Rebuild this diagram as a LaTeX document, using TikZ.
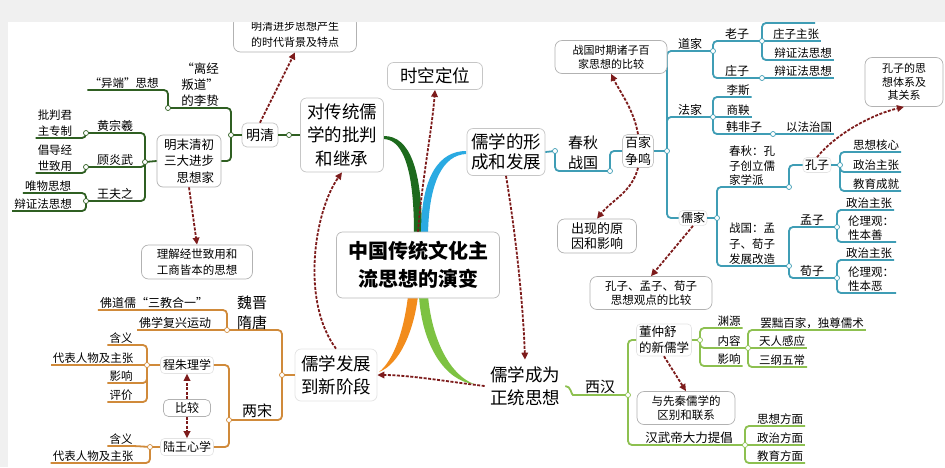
\documentclass[tikz,border=0pt]{standalone}
\usepackage{fontspec}
\setmainfont{Noto Sans CJK SC}
\usetikzlibrary{arrows.meta}
\definecolor{cL}{HTML}{2F5F22}
\definecolor{cB}{HTML}{D08A3A}
\definecolor{cT}{HTML}{3F9DB5}
\definecolor{cG}{HTML}{8DC050}
\definecolor{arr}{HTML}{7D1B1B}
\definecolor{bDG}{HTML}{1D6A1D}
\definecolor{bBL}{HTML}{2AAAE2}
\definecolor{bOR}{HTML}{F28C1C}
\definecolor{bLG}{HTML}{7DC242}
\definecolor{bgc}{HTML}{F0F0F0}
\tikzset{
  leaf/.style={anchor=south, inner xsep=2pt, inner ysep=1pt, font={\fontsize{11.5}{14}\selectfont}},
  lab/.style={anchor=south, inner xsep=1pt, inner ysep=1pt, font={\fontsize{12}{14}\selectfont}},
  mainbox/.style={draw=gray!45, rounded corners=6pt, fill=white, align=center, inner sep=2pt, line width=0.7pt, font={\fontsize{17.5}{23}\selectfont}},
  infobox/.style={draw=gray!60, rounded corners=7pt, fill=white, align=center, inner sep=2pt, line width=0.7pt},
  faintbox/.style={draw=gray!22, rounded corners=4pt, fill=white, inner sep=2pt, line width=0.6pt},
  jn/.style={circle, fill=white, inner sep=0pt, minimum size=5pt, line width=0.7pt},
  tree/.style={line width=1.8pt, rounded corners=4pt},
  darr/.style={draw=arr, line width=1.8pt, dash pattern=on 3pt off 1.5pt, -{Triangle[length=7pt,width=6.5pt]}}
}
\begin{document}
\begin{tikzpicture}[x=1pt,y=-1pt]
\useasboundingbox (0,0) rectangle (945,467);
\fill[bgc] (0,0) rectangle (945,467);
\fill[white] (8,22) rectangle (945,467);

% ---------- main tapered branches ----------
\fill[bDG] (384,136) .. controls (410,136) and (422,170) .. (422,234) -- (414,234) .. controls (414,175) and (405,140) .. (384,139) -- cycle;
\fill[bBL] (466,151) .. controls (440,151) and (421,175) .. (421,234) -- (428,234) .. controls (429,180) and (444,155) .. (466,154) -- cycle;
\fill[bOR] (408,296) .. controls (404,330) and (394,360) .. (379,372) .. controls (400,364) and (414,330) .. (418,296) -- cycle;
\fill[bLG] (419,296) .. controls (422,345) and (445,381) .. (474,384) .. controls (450,375) and (432,340) .. (428,296) -- cycle;

% ---------- main nodes ----------
\node[mainbox, minimum width=83pt, minimum height=74pt, font={\fontsize{17.5}{23.5}\selectfont}] (dctx) at (342,135) {对传统儒\\学的批判\\和继承};
\node[mainbox, minimum width=95pt, minimum height=27pt] (skdw) at (435,76) {时空定位};
\node[mainbox, minimum width=78pt, minimum height=47pt, font={\fontsize{17.5}{20}\selectfont}] (rxxc) at (506,152) {儒学的形\\成和发展};
\node[mainbox, minimum width=163pt, minimum height=66pt, draw=gray!55, font={\bfseries\fontsize{20}{28}\selectfont}] (ctr) at (418,265) {中国传统文化主\\流思想的演变};
\node[mainbox, minimum width=82pt, minimum height=52pt, draw=gray!22] (rxfz) at (336,375) {儒学发展\\到新阶段};
\node[mainbox, minimum width=80pt, minimum height=52pt, draw=none] (rxcw) at (525,386) {儒学成为\\正统思想};

% ---------- left tree (Ming-Qing) ----------
\node[infobox, draw=gray!45, rounded corners=5pt, minimum width=36pt, minimum height=24pt, font={\fontsize{14}{16}\selectfont}] (mq) at (260,135) {明清};
\coordinate (jmq) at (231,135);
\coordinate (jmq2) at (289,135);
\coordinate (jlz) at (168,108);
\coordinate (jmm) at (145,162);
\coordinate (jhzx) at (86,133);
\coordinate (jgyw) at (86,167);
\coordinate (jwfz) at (86,201);
\node[infobox, rounded corners=6pt, align=right, minimum width=64pt, minimum height=52pt, font={\fontsize{12.5}{16.5}\selectfont}] (mm) at (189,161) {明末清初\\三大进步\\思想家};
\draw[tree, cL] (jmq) -- (mq.west);
\draw[tree, cL] (mq.east) -- (dctx.west);
\draw[tree, cL] (jmq) |- (jlz);
\draw[tree, cL] (jmq) |- (mm.east);
\draw[tree, cL] (mm.west) -- (jmm);
\draw[tree, cL] (jmm) |- (jhzx);
\draw[tree, cL] (jmm) |- (jgyw);
\draw[tree, cL] (jmm) |- (jwfz);
\node[lab, align=center, font={\fontsize{12.5}{16}\selectfont}] (lz) at (200,108) {“离经\\叛道”\\的李贽};
\node[leaf] (yd) at (124,90) {“异端”思想};
\draw[tree, cL] (jlz) |- (yd.south east) -- (yd.south west);
\node[lab] (hzx) at (115,133) {黄宗羲};
\node[lab] (gyw) at (115,167) {顾炎武};
\node[lab] (wfz) at (115,201) {王夫之};
\node[leaf, align=right, font={\fontsize{11.5}{16}\selectfont}] (pp) at (55,138) {批判君\\主专制};
\node[leaf, align=right, font={\fontsize{11.5}{16}\selectfont}] (gg) at (55,173) {倡导经\\世致用};
\node[leaf] (wwsx) at (48,193) {唯物思想};
\node[leaf] (bzf) at (43,211) {辩证法思想};
\draw[tree, cL] (jhzx) |- (pp.south east) -- (pp.south west);
\draw[tree, cL] (jgyw) |- (gg.south east) -- (gg.south west);
\draw[tree, cL] (jwfz) |- (wwsx.south east) -- (wwsx.south west);
\draw[tree, cL] (jwfz) |- (bzf.south east) -- (bzf.south west);
\foreach \c in {jmq,jmq2,jlz,jmm,jhzx,jgyw,jwfz} \node[jn, draw=cL] at (\c) {};
\node[infobox, minimum width=111pt, minimum height=34pt, font={\fontsize{11.5}{16}\selectfont}] (ljjs) at (197,262) {理解经世致用和\\工商皆本的思想};
\node[infobox, minimum width=123pt, minimum height=36pt, font={\fontsize{11}{16}\selectfont}] (mqjb) at (295,34) {明清进步思想产生\\的时代背景及特点};

% ---------- bottom-left tree ----------
\coordinate (jfz) at (282,375);
\coordinate (jwj) at (227,330);
\coordinate (jls) at (229,420);
\coordinate (jcz) at (147,365);
\coordinate (jlw) at (150,447);
\draw[tree, cB] (jfz) -- (rxfz.west);
\draw[tree, cB] (jfz) |- (jwj);
\draw[tree, cB] (jfz) |- (jls);
\node[align=center, inner sep=0pt, font={\fontsize{15}{20}\selectfont}] (wjst) at (252,313) {魏晋\\隋唐};
\node[inner sep=0pt, font={\fontsize{15}{18}\selectfont}] (ls) at (257,411) {两宋};
\node[leaf, font={\fontsize{12}{14}\selectfont}] (fdr) at (154,310) {佛道儒“三教合一”};
\node[leaf, font={\fontsize{12}{14}\selectfont}] (fxfx) at (175,330) {佛学复兴运动};
\draw[tree, cB] (jwj) |- (fdr.south east) -- (fdr.south west);
\draw[tree, cB] (jwj) -- (fxfx.south east) -- (fxfx.south west);
\node[faintbox, minimum width=53pt, minimum height=17pt, font={\fontsize{12}{14}\selectfont}] (czlx) at (187,365) {程朱理学};
\node[faintbox, minimum width=53pt, minimum height=17pt, font={\fontsize{12}{14}\selectfont}] (lwxx) at (187,447) {陆王心学};
\node[infobox, rounded corners=5pt, minimum width=47pt, minimum height=17pt, font={\fontsize{12}{14}\selectfont}] (bj) at (187,408) {比较};
\draw[tree, cB] (jls) |- (czlx.east);
\draw[tree, cB] (jls) |- (lwxx.east);
\draw[tree, cB] (czlx.west) -- (jcz);
\draw[tree, cB] (lwxx.west) -- (jlw);
\node[leaf] (hy1) at (121,345) {含义};
\node[leaf] (dbrw1) at (93,365) {代表人物及主张};
\node[leaf] (yx1) at (121,383) {影响};
\node[leaf] (pj) at (121,402) {评价};
\draw[tree, cB] (jcz) |- (hy1.south east) -- (hy1.south west);
\draw[tree, cB] (jcz) -- (dbrw1.south east) -- (dbrw1.south west);
\draw[tree, cB] (jcz) |- (yx1.south east) -- (yx1.south west);
\draw[tree, cB] (jcz) |- (pj.south east) -- (pj.south west);
\node[leaf] (hy2) at (121,446) {含义};
\node[leaf] (dbrw2) at (93,463) {代表人物及主张};
\draw[tree, cB] (jlw) -- (hy2.south east) -- (hy2.south west);
\draw[tree, cB] (jlw) |- (dbrw2.south east) -- (dbrw2.south west);
\foreach \c in {jfz,jwj,jls,jcz,jlw} \node[jn, draw=cB] at (\c) {};
\draw[darr] (bj.north) -- (czlx.south);
\draw[darr] (bj.south) -- (lwxx.north);

% ---------- right-top tree ----------
\coordinate (jcq1) at (555,151);
\coordinate (jcq2) at (610,171);
\coordinate (jbj) at (667,151);
\coordinate (jdj) at (713,51);
\coordinate (jfj) at (713,117);
\coordinate (jrj) at (717,218);
\coordinate (jlaozi) at (762,41);
\coordinate (jzz) at (762,78);
\coordinate (lzh) at (815,23);
\coordinate (jhfz) at (773,134);
\coordinate (jcqkz) at (789,187);
\coordinate (jzgmx) at (789,266);
\coordinate (jkz) at (840,165);
\coordinate (jmz) at (837,227);
\coordinate (jxz) at (837,278);
\node[align=center, inner sep=0pt, font={\fontsize{15}{20}\selectfont}] (cqzg) at (583,153) {春秋\\战国};
\node[infobox, draw=gray!45, rounded corners=5pt, minimum width=31pt, minimum height=32pt, font={\fontsize{13}{17}\selectfont}] (bjzm) at (638,151) {百家\\争鸣};
\node[faintbox, minimum width=27pt, minimum height=15pt, font={\fontsize{12}{14}\selectfont}] (rj) at (693,218) {儒家};
\node[faintbox, minimum width=27pt, minimum height=15pt, font={\fontsize{12}{14}\selectfont}] (kz) at (817,165) {孔子};
\draw[tree, cT] (rxxc.east) -- (jcq1);
\draw[tree, cT] (jcq1) |- (jcq2);
\draw[tree, cT] (jcq2) |- (bjzm.west);
\draw[tree, cT] (bjzm.east) -- (jbj);
\draw[tree, cT] (jbj) |- (jdj);
\draw[tree, cT] (jbj) |- (jfj);
\draw[tree, cT] (jbj) |- (rj.west);
\draw[tree, cT] (rj.east) -- (jrj);
\node[lab] (dj) at (690,51) {道家};
\node[lab] (fj) at (690,117) {法家};
% Daoists
\draw[tree, cT] (jdj) |- (jlaozi);
\draw[tree, cT] (jdj) |- (jzz);
\node[lab] (laozi) at (737,41) {老子};
\node[lab] (zhuangzi) at (737,78) {庄子};
\draw[tree, cT] (jlaozi) |- (lzh);
\node[leaf] (zzzz) at (796,41) {庄子主张};
\node[leaf] (bzf1) at (803,60) {辩证法思想};
\node[leaf] (bzf2) at (803,78) {辩证法思想};
\draw[tree, cT] (jlaozi) -- (zzzz.south west) -- (zzzz.south east);
\draw[tree, cT] (jlaozi) |- (bzf1.south west) -- (bzf1.south east);
\draw[tree, cT] (jzz) -- (bzf2.south west) -- (bzf2.south east);
% Legalists
\node[leaf] (lisi) at (738,97) {李斯};
\node[leaf] (shy) at (738,117) {商鞅};
\node[lab] (hfz) at (744,134) {韩非子};
\node[leaf] (yfzg) at (809,134) {以法治国};
\draw[tree, cT] (jfj) |- (lisi.south west) -- (lisi.south east);
\draw[tree, cT] (jfj) -- (shy.south west) -- (shy.south east);
\draw[tree, cT] (jfj) |- (jhfz);
\draw[tree, cT] (jhfz) -- (yfzg.south west) -- (yfzg.south east);
% Confucians
\draw[tree, cT] (jrj) |- (jcqkz);
\draw[tree, cT] (jrj) |- (jzgmx);
\node[lab, align=left, font={\fontsize{11.5}{14.5}\selectfont}] (cqkz) at (752,187) {春秋：孔\\子创立儒\\家学派};
\node[lab, align=left, font={\fontsize{11.5}{15.5}\selectfont}] (zgmx) at (752,266) {战国：孟\\子、荀子\\发展改造};
\draw[tree, cT] (jcqkz) |- (kz.west);
\draw[tree, cT] (kz.east) -- (jkz);
\node[leaf] (sxhx) at (876,152) {思想核心};
\node[leaf] (kzzz) at (876,172) {政治主张};
\node[leaf] (jycj) at (876,191) {教育成就};
\draw[tree, cT] (jkz) |- (sxhx.south west) -- (sxhx.south east);
\draw[tree, cT] (jkz) |- (kzzz.south west) -- (kzzz.south east);
\draw[tree, cT] (jkz) |- (jycj.south west) -- (jycj.south east);
\draw[tree, cT] (jzgmx) |- (jmz);
\draw[tree, cT] (jzgmx) |- (jxz);
\node[lab] (mz) at (812,227) {孟子};
\node[lab] (xz) at (812,278) {荀子};
\node[leaf] (mzz) at (869,210) {政治主张};
\node[leaf, align=left, font={\fontsize{11.5}{14}\selectfont}] (mzl) at (871,242) {伦理观：\\性本善};
\node[leaf] (xzz) at (869,260) {政治主张};
\node[leaf, align=left, font={\fontsize{11.5}{14}\selectfont}] (xzl) at (871,293) {伦理观：\\性本恶};
\draw[tree, cT] (jmz) |- (mzz.south west) -- (mzz.south east);
\draw[tree, cT] (jmz) |- (mzl.south west) -- (mzl.south east);
\draw[tree, cT] (jxz) |- (xzz.south west) -- (xzz.south east);
\draw[tree, cT] (jxz) |- (xzl.south west) -- (xzl.south east);
\foreach \c in {jcq1,jcq2,jbj,jdj,jfj,jrj,jlaozi,jzz,jhfz,jcqkz,jzgmx,jkz,jmz,jxz} \node[jn, draw=cT] at (\c) {};
% info boxes right
\node[infobox, minimum width=112pt, minimum height=33pt, font={\fontsize{11}{14}\selectfont}] (zgsq) at (611,57) {战国时期诸子百\\家思想的比较};
\node[infobox, minimum width=79pt, minimum height=34pt, font={\fontsize{13}{15}\selectfont}] (cxdy) at (597,236) {出现的原\\因和影响};
\node[infobox, minimum width=122pt, minimum height=33pt, font={\fontsize{11.5}{14}\selectfont}] (kzmz) at (651,293) {孔子、孟子、荀子\\思想观点的比较};
\node[infobox, minimum width=78pt, minimum height=49pt, font={\fontsize{11}{13.5}\selectfont}] (kzsx) at (904,82) {孔子的思\\想体系及\\其关系};
\draw[darr] (bjzm.north) .. controls (634,110) and (620,92) .. (zgsq.south);
\draw[darr] (bjzm.south) .. controls (632,192) and (612,200) .. (cxdy.north);
\draw[darr] (rj.south) -- (kzmz.north);
\draw[darr] (kz.north) .. controls (835,135) and (870,115) .. (kzsx.south);

% ---------- right-bottom tree ----------
\coordinate (xhl) at (577,395);
\coordinate (jxh) at (628,395);
\coordinate (jhwd) at (745,445);
\coordinate (jdzs) at (700,340);
\coordinate (jnr) at (748,348);
\draw[tree, cG] (rxcw.east) to[out=0, in=180] (xhl) -- (jxh);
\node[inner sep=0pt, font={\fontsize{15}{18}\selectfont}] (xh) at (600,387) {西汉};
\node[faintbox, align=left, minimum width=55pt, minimum height=32pt, font={\fontsize{12.5}{16}\selectfont}] (dzs) at (664,340) {董仲舒\\的新儒学};
\draw[tree, cG] (jxh) |- (dzs.west);
\draw[tree, cG] (jxh) |- (jhwd);
\node[lab, font={\fontsize{12.5}{15}\selectfont}] (hwd) at (689,445) {汉武帝大力提倡};
\draw[tree, cG] (dzs.east) -- (jdzs);
\node[leaf] (yy) at (729,328) {渊源};
\node[lab, font={\fontsize{11.5}{14}\selectfont}] (nr) at (729,348) {内容};
\node[leaf] (yx2) at (729,366) {影响};
\draw[tree, cG] (jdzs) |- (yy.south west) -- (yy.south east);
\draw[tree, cG] (jdzs) |- (jnr);
\draw[tree, cG] (jdzs) |- (yx2.south west) -- (yx2.south east);
\node[leaf] (bchj) at (812,330) {罢黜百家，独尊儒术};
\node[leaf] (trgy) at (782,348) {天人感应};
\node[leaf] (sgwc) at (782,367) {三纲五常};
\draw[tree, cG] (jnr) |- (bchj.south west) -- (bchj.south east);
\draw[tree, cG] (jnr) -- (trgy.south west) -- (trgy.south east);
\draw[tree, cG] (jnr) |- (sgwc.south west) -- (sgwc.south east);
\node[leaf] (sxfm) at (780,426) {思想方面};
\node[leaf] (zzfm) at (780,445) {政治方面};
\node[leaf] (jyfm) at (780,463) {教育方面};
\draw[tree, cG] (jhwd) |- (sxfm.south west) -- (sxfm.south east);
\draw[tree, cG] (jhwd) -- (zzfm.south west) -- (zzfm.south east);
\draw[tree, cG] (jhwd) |- (jyfm.south west) -- (jyfm.south east);
\foreach \c in {jxh,jhwd,jdzs,jnr} \node[jn, draw=cG] at (\c) {};
\node[infobox, minimum width=98pt, minimum height=33pt, font={\fontsize{11.5}{14}\selectfont}] (yxq) at (686,408) {与先秦儒学的\\区别和联系};
\draw[darr] (dzs.south) -- (yxq.north);

% ---------- dashed arrows of the main level ----------
\draw[darr] (mm.south) -- (ljjs.north);
\draw[darr] (mq.north) -- (mqjb.south);
\draw[darr] (ctr.north) .. controls (422,180) and (432,130) .. (skdw.south);
\draw[darr] (rxfz.north) .. controls (300,300) and (315,210) .. (dctx.south);
\draw[darr] (rxxc.south) .. controls (515,230) and (523,300) .. (rxcw.north);
\draw[darr] (rxcw.west) .. controls (450,382) and (410,375) .. (rxfz.east);

% ---------- grey top band ----------
\fill[bgc] (0,0) rectangle (945,22);
\fill[bgc] (0,0) rectangle (8,467);
\end{tikzpicture}
\end{document}
